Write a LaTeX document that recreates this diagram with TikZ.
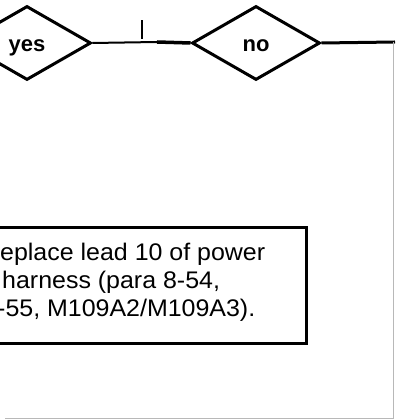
\documentclass[tikz,border=0pt]{standalone}
\usepackage{fontspec}
\setmainfont{Liberation Sans}
\usetikzlibrary{shapes.geometric}
\begin{document}
\begin{tikzpicture}[x=1pt,y=-1pt,
  decision/.style={draw, shape=diamond, line width=3pt, inner sep=0pt,
    minimum width=128pt, minimum height=74pt, text height=20pt, text depth=2pt,
    font=\fontsize{22}{22}\selectfont\bfseries},
  actionbox/.style={draw, rectangle, line width=3pt, inner sep=0pt},
  boxtext/.style={anchor=base west, inner sep=0pt, font=\fontsize{24}{24}\selectfont},
  thinline/.style={line width=2pt},
  thickline/.style={line width=3.5pt},
  frameline/.style={line width=1pt, draw=black!28}]
\useasboundingbox (0,0) rectangle (395,419);
\clip (0,0) rectangle (395,419);
% decisions
\node[decision] (yes) at (27,43) {yes};
\node[decision] (no) at (256,43) {no};
% connector between decisions
\coordinate (mid) at (157,42);
\coordinate (tickbot) at (142,39);
\coordinate (ticktop) at (142,20);
\draw[thinline] (yes.east) -- (mid);
\draw[thickline] (mid) -- (no.west);
\draw[thinline] (tickbot) -- (ticktop);
% right connector and frame
\coordinate (exit) at (395,42);
\coordinate (frtop) at (393,42);
\coordinate (frcorner) at (393,418);
\coordinate (frend) at (5,418);
\draw[line width=3pt] (no.east) -- (exit);
\draw[frameline] (frtop) -- (frcorner) -- (frend);
% action box
\node[actionbox, minimum width=330pt, minimum height=116pt] (box) at (141,285) {};
\node[boxtext] (l1) at (0,260) {\scalebox{1.04}[1]{eplace lead 10 of power}};
\node[boxtext] (l2) at (2,288) {\scalebox{1.04}[1]{harness (para 8-54,}};
\node[boxtext] (l3) at (-3,316) {\scalebox{1.04}[1]{-55, M109A2/M109A3).}};
\end{tikzpicture}
\end{document}
